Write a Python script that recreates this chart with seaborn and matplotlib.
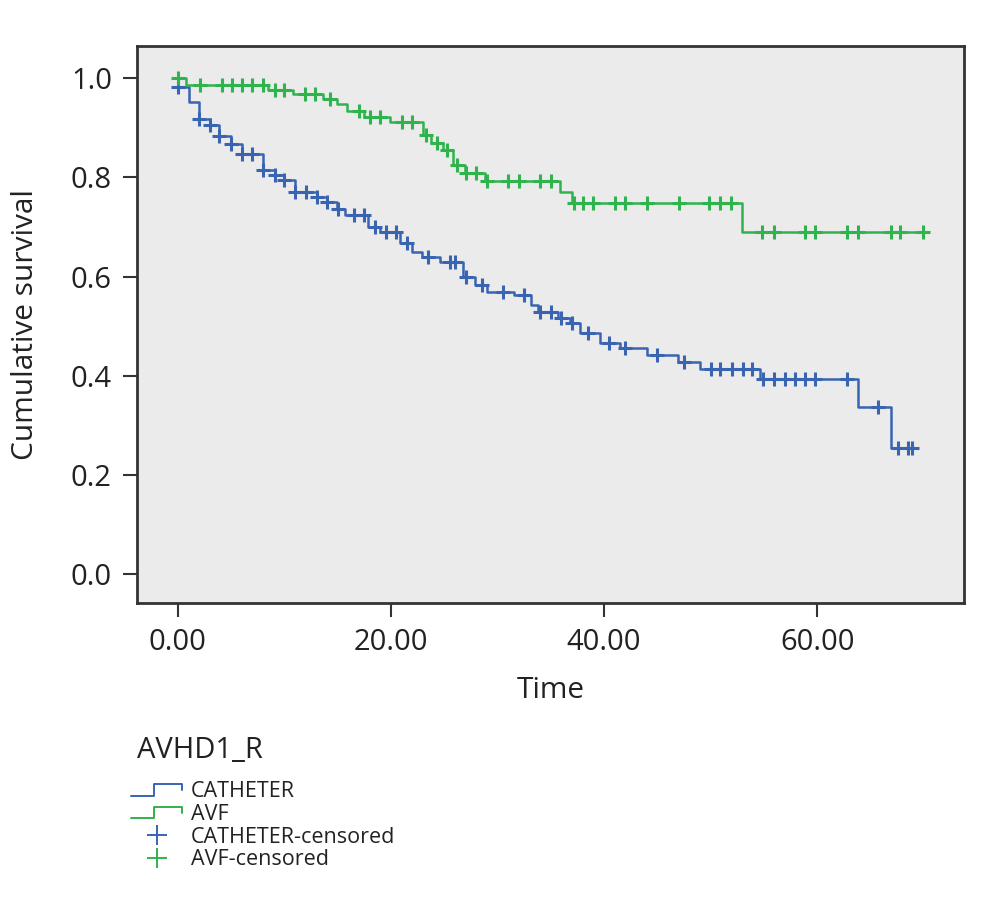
import numpy as np
import pandas as pd
import matplotlib
matplotlib.use("Agg")
import matplotlib.pyplot as plt
import seaborn as sns
from matplotlib.lines import Line2D
from matplotlib.legend_handler import HandlerBase

# Kaplan-Meier steps (time, survival after the step)
cath_time = [0.0, 1.0, 2.0, 3.0, 3.9, 5.0, 6.0, 8.0, 9.1, 10.0, 11.0, 13.1, 14.0, 14.9,
             15.7, 17.8, 19.0, 20.8, 22.0, 22.9, 24.6, 26.8, 27.9, 29.0, 31.5, 33.1,
             33.8, 35.7, 36.8, 37.7, 39.6, 41.5, 44.0, 46.9, 49.0, 54.6, 63.8, 66.9, 69.0]
cath_surv = [0.983, 0.952, 0.917, 0.905, 0.883, 0.867, 0.847, 0.815, 0.805, 0.795, 0.770,
             0.760, 0.750, 0.736, 0.724, 0.700, 0.690, 0.667, 0.649, 0.639, 0.629, 0.599,
             0.583, 0.569, 0.562, 0.542, 0.528, 0.516, 0.506, 0.486, 0.466, 0.456, 0.441,
             0.427, 0.413, 0.393, 0.337, 0.254, 0.254]
cath_cens = [0.0, 2.0, 3.0, 3.9, 5.0, 6.0, 7.0, 8.0, 9.1, 10.0, 11.0, 12.0, 13.1, 14.0,
             15.0, 16.5, 17.5, 18.5, 19.5, 20.5, 21.5, 23.5, 25.5, 26.0, 27.0, 28.5, 30.5,
             32.5, 34.0, 35.0, 36.0, 37.0, 38.5, 40.5, 42.0, 45.0, 47.5, 50.0, 50.9, 52.0,
             53.0, 53.9, 54.9, 55.9, 57.0, 57.9, 58.9, 59.8, 62.8, 65.7, 67.6, 68.5, 68.9]

avf_time = [0.0, 0.8, 8.5, 10.8, 13.6, 14.9, 15.9, 17.5, 19.9, 23.0, 23.8, 24.9, 25.8,
            26.9, 28.8, 35.9, 37.0, 52.9, 70.0]
avf_surv = [1.0, 0.986, 0.976, 0.968, 0.958, 0.948, 0.933, 0.922, 0.911, 0.885, 0.869,
            0.855, 0.825, 0.808, 0.792, 0.770, 0.748, 0.690, 0.690]
avf_cens = [0.0, 2.1, 4.1, 5.1, 6.0, 7.0, 8.0, 9.1, 10.0, 11.9, 12.9, 14.3, 17.0, 18.0,
            19.0, 21.0, 22.0, 23.3, 24.3, 25.3, 26.2, 27.0, 28.0, 29.0, 31.0, 32.0, 34.0,
            35.0, 37.2, 38.0, 39.0, 41.0, 42.0, 44.0, 47.0, 49.8, 50.9, 51.9, 54.8, 55.9,
            58.9, 59.8, 62.8, 63.8, 66.9, 67.8, 69.9]

groups = ["CATHETER", "AVF"]
colors = {"CATHETER": "#3864b2", "AVF": "#2fb34d"}


def surv_at(times, surv, t):
    i = np.searchsorted(times, t, side="right") - 1
    return np.asarray(surv)[np.clip(i, 0, len(surv) - 1)]


curves = pd.concat([
    pd.DataFrame({"time": cath_time, "surv": cath_surv, "group": "CATHETER"}),
    pd.DataFrame({"time": avf_time, "surv": avf_surv, "group": "AVF"}),
])
cens = pd.concat([
    pd.DataFrame({"time": cath_cens, "surv": surv_at(cath_time, cath_surv, cath_cens),
                  "group": "CATHETER"}),
    pd.DataFrame({"time": avf_cens, "surv": surv_at(avf_time, avf_surv, avf_cens),
                  "group": "AVF"}),
])

sns.set_style("white")
plt.rcParams["font.family"] = ["Open Sans", "DejaVu Sans"]

fig = plt.figure(figsize=(9.92, 9.0), dpi=100)
ax = fig.add_axes([0.138, 0.33, 0.834, 0.619])
ax.set_facecolor("#ebebeb")

for g in groups:
    d = curves[curves.group == g]
    sns.lineplot(data=d, x="time", y="surv", drawstyle="steps-post", color=colors[g],
                 linewidth=1.8, ax=ax, legend=False, estimator=None, sort=False)
    c = cens[cens.group == g]
    sns.scatterplot(data=c, x="time", y="surv", marker="+", s=100, linewidth=2.2,
                    color=colors[g], ax=ax, legend=False, zorder=3)

ax.set_xlim(-3.85, 73.8)
ax.set_ylim(-0.058, 1.065)
ax.set_xticks([0, 20, 40, 60])
ax.set_xticklabels(["0.00", "20.00", "40.00", "60.00"])
ax.set_yticks([0.0, 0.2, 0.4, 0.6, 0.8, 1.0])
ax.set_yticklabels(["0.0", "0.2", "0.4", "0.6", "0.8", "1.0"])
ax.tick_params(axis="both", labelsize=21, length=10, width=1.5, color="#333333",
               direction="out", bottom=True, left=True, pad=8, labelcolor="#222222")
ax.set_xlabel("Time", fontsize=21.5, color="#222222", labelpad=14)
ax.set_ylabel("Cumulative survival", fontsize=21.5, color="#222222", labelpad=22)
for sp in ax.spines.values():
    sp.set_color("#333333")
    sp.set_linewidth(2)


class StepHandler(HandlerBase):
    def create_artists(self, legend, orig_handle, xdescent, ydescent, width, height,
                       fontsize, trans):
        xs = np.array([0, 0.45, 0.45, 1.0, 1.0]) * width - xdescent
        ys = np.array([0.1, 0.1, 0.85, 0.85, 0.45]) * height - ydescent
        ln = Line2D(xs, ys, color=orig_handle.get_color(), linewidth=1.4)
        ln.set_transform(trans)
        return [ln]


h_cath = Line2D([], [], color=colors["CATHETER"])
h_avf = Line2D([], [], color=colors["AVF"])
h_cc = Line2D([], [], color=colors["CATHETER"], marker="+", linestyle="none",
              markersize=15, markeredgewidth=1.4)
h_ac = Line2D([], [], color=colors["AVF"], marker="+", linestyle="none",
              markersize=15, markeredgewidth=1.4)

fig.text(0.138, 0.158, "AVHD1_R", fontsize=21, color="#222222")
fig.legend([h_cath, h_avf, h_cc, h_ac],
           ["CATHETER", "AVF", "CATHETER-censored", "AVF-censored"],
           handler_map={h_cath: StepHandler(), h_avf: StepHandler()},
           loc="upper left", bbox_to_anchor=(0.121, 0.144), frameon=False,
           fontsize=15.5, labelspacing=0.08, handlelength=2.4, handletextpad=0.4,
           borderpad=0, labelcolor="#222222")

fig.savefig("out.png", dpi=100, facecolor="white")
